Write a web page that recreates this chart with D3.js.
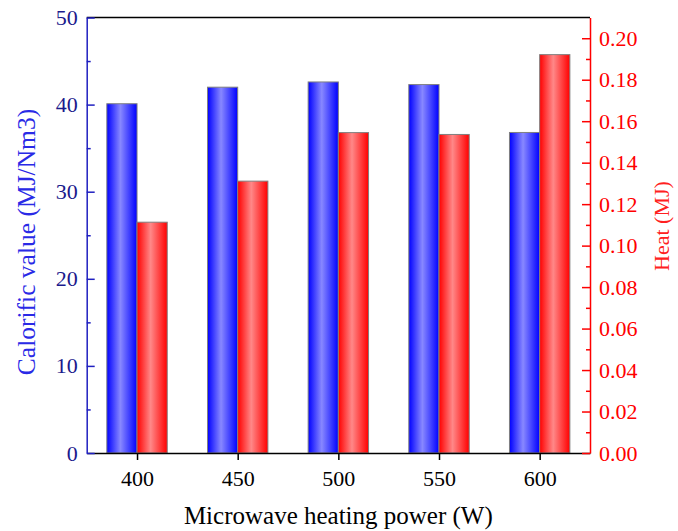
<!DOCTYPE html>
<html>
<head>
<meta charset="utf-8">
<script src="https://cdn.jsdelivr.net/npm/d3@7/dist/d3.min.js"></script>
<style>
  html, body { margin: 0; padding: 0; background: #fff; }
  svg { display: block; }
  text { font-family: "Liberation Serif", "Times New Roman", serif; }
</style>
</head>
<body>
<svg id="chart" width="678" height="531"></svg>
<script>
// Microwave heating power levels (W)
const powers = [400, 450, 500, 550, 600];
// Calorific value of the gas (MJ/Nm3), left axis
const calorific = [40.1, 42.0, 42.6, 42.3, 36.8];
// Heat consumed (MJ), right axis
const heat = [0.1113, 0.1311, 0.1545, 0.1536, 0.1921];
const xTicks = [400, 450, 500, 550, 600];
const leftTicks = [0, 10, 20, 30, 40, 50];
const rightTicks = [0, 0.02, 0.04, 0.06, 0.08, 0.10, 0.12, 0.14, 0.16, 0.18, 0.20];

const svg = d3.select("#chart");
const m = { left: 86.7, right: 590, top: 17.5, bottom: 453 };
const barW = 15; // bar width in power units

const x = d3.scaleLinear().domain([375, 625]).range([m.left, m.right]);
const yL = d3.scaleLinear().domain([0, 50]).range([m.bottom, m.top]);
const yR = d3.scaleLinear().domain([0, 0.21]).range([m.bottom, m.top]);

// bar fills: saturated edges, light centre
const defs = svg.append("defs");
function grad(id, dark, light) {
  const g = defs.append("linearGradient").attr("id", id)
    .attr("x1", "0%").attr("x2", "100%").attr("y1", "0%").attr("y2", "0%");
  g.append("stop").attr("offset", "0%").attr("stop-color", dark);
  g.append("stop").attr("offset", "45%").attr("stop-color", light);
  g.append("stop").attr("offset", "100%").attr("stop-color", dark);
}
grad("gBlue", "#0000ff", "#8888ff");
grad("gRed", "#ff0000", "#ff8888");

const bars = svg.append("g");
bars.selectAll("rect.cal").data(powers).join("rect")
  .attr("class", "cal")
  .attr("x", d => x(d - barW))
  .attr("width", d => x(d) - x(d - barW))
  .attr("y", (d, i) => yL(calorific[i]))
  .attr("height", (d, i) => yL(0) - yL(calorific[i]))
  .attr("fill", "url(#gBlue)")
  .attr("stroke", "#808080").attr("stroke-width", 1);

bars.selectAll("rect.heat").data(powers).join("rect")
  .attr("class", "heat")
  .attr("x", d => x(d))
  .attr("width", d => x(d + barW) - x(d))
  .attr("y", (d, i) => yR(heat[i]))
  .attr("height", (d, i) => yR(0) - yR(heat[i]))
  .attr("fill", "url(#gRed)")
  .attr("stroke", "#808080").attr("stroke-width", 1);

// top frame line
svg.append("line")
  .attr("x1", m.left).attr("x2", m.right).attr("y1", m.top).attr("y2", m.top)
  .attr("stroke", "#000").attr("stroke-width", 1.5);

function styleAxis(g, color, labelColor) {
  g.attr("font-family", "'Liberation Serif', 'Times New Roman', serif").attr("font-size", 22);
  g.select(".domain").attr("stroke", color).attr("stroke-width", 1.5);
  g.selectAll(".tick line").attr("stroke", color).attr("stroke-width", 1.5);
  g.selectAll(".tick text").attr("fill", labelColor);
}

// bottom axis
const gx = svg.append("g").attr("transform", `translate(0,${m.bottom})`)
  .call(d3.axisBottom(x).tickValues(xTicks).tickSize(7).tickSizeOuter(0).tickPadding(10));
styleAxis(gx, "#000", "#000");

// left axis: minor then major ticks, pointing inward
const leftMinor = d3.range(5, 50, 10);
svg.append("g").attr("transform", `translate(${m.left},0)`)
  .call(d3.axisRight(yL).tickValues(leftMinor).tickSize(4).tickFormat(""))
  .call(g => { g.select(".domain").remove(); g.selectAll(".tick line").attr("stroke", "#1f1fc0").attr("stroke-width", 1.5); });
const gl = svg.append("g").attr("transform", `translate(${m.left},0)`)
  .call(d3.axisLeft(yL).tickValues(leftTicks).tickSize(-8).tickSizeOuter(0).tickPadding(9).tickFormat(d3.format("d")));
styleAxis(gl, "#1f1fc0", "#1a1a8c");

// right axis: minor then major ticks, pointing inward
const rightMinor = d3.range(1, 21, 2).map(v => v / 100);
svg.append("g").attr("transform", `translate(${m.right},0)`)
  .call(d3.axisLeft(yR).tickValues(rightMinor).tickSize(4).tickFormat(""))
  .call(g => { g.select(".domain").remove(); g.selectAll(".tick line").attr("stroke", "#ff0000").attr("stroke-width", 1.5); });
const gr = svg.append("g").attr("transform", `translate(${m.right},0)`)
  .call(d3.axisRight(yR).tickValues(rightTicks).tickSize(-8).tickSizeOuter(0).tickPadding(9).tickFormat(d3.format(".2f")));
styleAxis(gr, "#ff0000", "#ff0000");

// axis titles
svg.append("text")
  .attr("x", (m.left + m.right) / 2).attr("y", 524)
  .attr("text-anchor", "middle").attr("fill", "#000")
  .style("font-size", "25px")
  .text("Microwave heating power (W)");

svg.append("text")
  .attr("transform", "translate(35,242) rotate(-90)")
  .attr("text-anchor", "middle").attr("fill", "#2a2ae6")
  .style("font-size", "25.5px")
  .text("Calorific value (MJ/Nm3)");

svg.append("text")
  .attr("transform", "translate(669,226) rotate(-90)")
  .attr("text-anchor", "middle").attr("fill", "#ff2020")
  .style("font-size", "22px")
  .text("Heat (MJ)");
</script>
</body>
</html>
